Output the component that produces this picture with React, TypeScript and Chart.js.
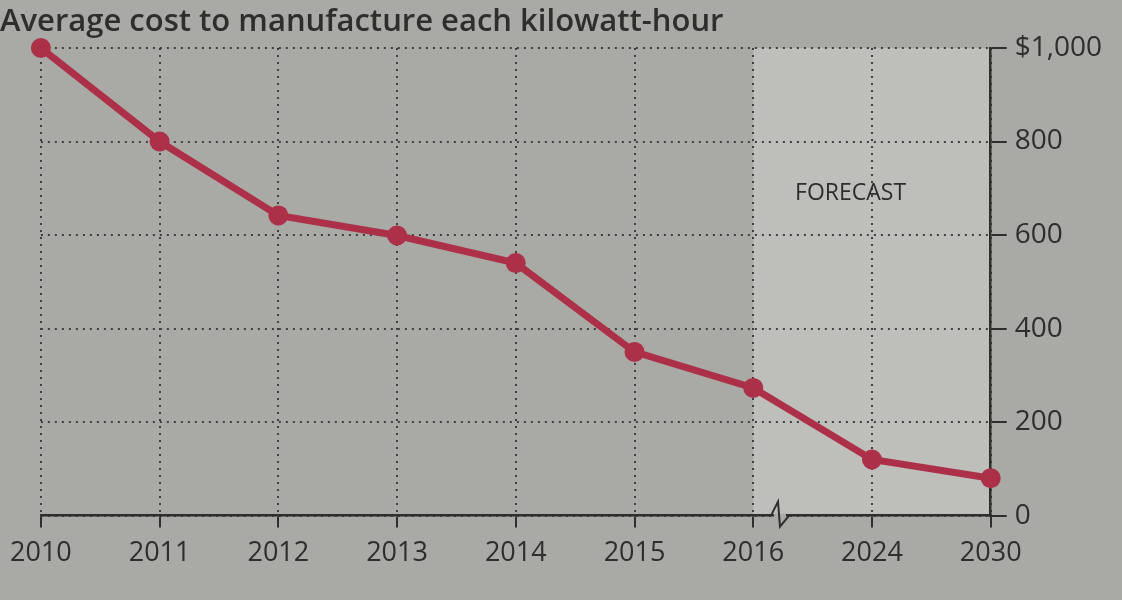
import React, { useEffect, useRef } from "react";
import { Chart, registerables } from "chart.js";

Chart.register(...registerables);

const years: string[] = ["2010", "2011", "2012", "2013", "2014", "2015", "2016", "2024", "2030"];
const costPerKwh: number[] = [1000, 800, 642, 599, 540, 350, 273, 120, 80];
const yTicks: number[] = [0, 200, 400, 600, 800, 1000];
const titleText = "Average cost to manufacture each kilowatt-hour";
const forecastLabel = "FORECAST";
const forecastStartIndex = 6;

const PAPER = "#a9a9a5";
const PAPER_LIGHT = "#bebebb";
const INK = "#2e2e2e";
const GRID = "#3f3f3f";
const LINE = "#ad3049";

const paperPlugin = {
  id: "paper",
  beforeDraw(chart: any) {
    const { ctx, chartArea, scales } = chart;
    ctx.save();
    ctx.fillStyle = PAPER;
    ctx.fillRect(0, 0, chart.width, chart.height);
    const x0 = scales.x.getPixelForValue(forecastStartIndex);
    ctx.fillStyle = PAPER_LIGHT;
    ctx.fillRect(x0, chartArea.top, chartArea.right - x0, chartArea.bottom - chartArea.top);
    ctx.restore();
  },
  afterDraw(chart: any) {
    const { ctx, chartArea, scales } = chart;
    ctx.save();
    ctx.setLineDash([]);
    // title
    ctx.fillStyle = INK;
    ctx.font = "600 31px 'Open Sans', sans-serif";
    ctx.textBaseline = "middle";
    ctx.textAlign = "left";
    ctx.fillText(titleText, 0, 22);
    // forecast label
    const fx = scales.x.getPixelForValue(6.82);
    const fy = scales.y.getPixelForValue(690);
    ctx.font = "23px 'Liberation Sans Narrow', 'Open Sans', sans-serif";
    ctx.textAlign = "center";
    ctx.fillText(forecastLabel, fx, fy);
    // axis break zigzag
    const bx = scales.x.getPixelForValue(6.2);
    const by = chartArea.bottom;
    ctx.strokeStyle = PAPER;
    ctx.lineWidth = 4;
    ctx.beginPath();
    ctx.moveTo(bx - 3, by);
    ctx.lineTo(bx + 9, by);
    ctx.stroke();
    ctx.strokeStyle = INK;
    ctx.lineWidth = 2;
    ctx.lineJoin = "miter";
    ctx.beginPath();
    ctx.moveTo(bx - 6, by);
    ctx.lineTo(bx + 1, by - 14);
    ctx.lineTo(bx + 3, by + 11);
    ctx.lineTo(bx + 12, by);
    ctx.stroke();
    ctx.restore();
  },
};

export default function App() {
  const ref = useRef<HTMLCanvasElement | null>(null);

  useEffect(() => {
    if (!ref.current) return;
    const chart = new Chart(ref.current, {
      type: "line",
      data: {
        labels: years,
        datasets: [
          {
            data: costPerKwh,
            borderColor: LINE,
            backgroundColor: LINE,
            borderWidth: 7,
            pointRadius: 10,
            pointHoverRadius: 10,
            pointBackgroundColor: LINE,
            pointBorderWidth: 0,
            tension: 0,
            clip: false as any,
          },
        ],
      },
      options: {
        responsive: false,
        animation: false,
        layout: { padding: { top: 48, left: 0, right: 12, bottom: 20 } },
        plugins: {
          legend: { display: false },
          tooltip: { enabled: false },
          title: { display: false },
        },
        scales: {
          x: {
            type: "category",
            offset: false,
            grid: {
              display: true,
              color: GRID,
              lineWidth: 2,
              drawTicks: true,
              tickLength: 12,
              tickColor: INK,
              tickWidth: 2,
              tickBorderDash: [],
            } as any,
            border: { display: true, color: INK, width: 2.5, dash: [2, 5] },
            ticks: {
              color: INK,
              font: { family: "'Open Sans', sans-serif", size: 27 },
              padding: 10,
              maxRotation: 0,
              autoSkip: false,
            },
          },
          y: {
            position: "right",
            min: 0,
            max: 1000,
            afterBuildTicks: (scale: any) => {
              scale.ticks = yTicks.map((v) => ({ value: v }));
            },
            grid: {
              display: true,
              color: GRID,
              lineWidth: 2,
              drawTicks: true,
              tickLength: 16,
              tickColor: INK,
              tickWidth: 2,
              tickBorderDash: [],
            } as any,
            border: { display: true, color: INK, width: 2.5, dash: [2, 5] },
            ticks: {
              color: INK,
              font: { family: "'Open Sans', sans-serif", size: 28 },
              padding: 8,
              callback: (v: any) => (Number(v) === 1000 ? "$1,000" : String(v)),
            },
          },
        },
      },
      plugins: [paperPlugin],
    });
    return () => chart.destroy();
  }, []);

  return (
    <div style={{ position: "absolute", left: 0, top: 0, width: 1122, height: 600, background: PAPER }}>
      <canvas ref={ref} width={1122} height={600} style={{ width: 1122, height: 600, display: "block" }} />
    </div>
  );
}
